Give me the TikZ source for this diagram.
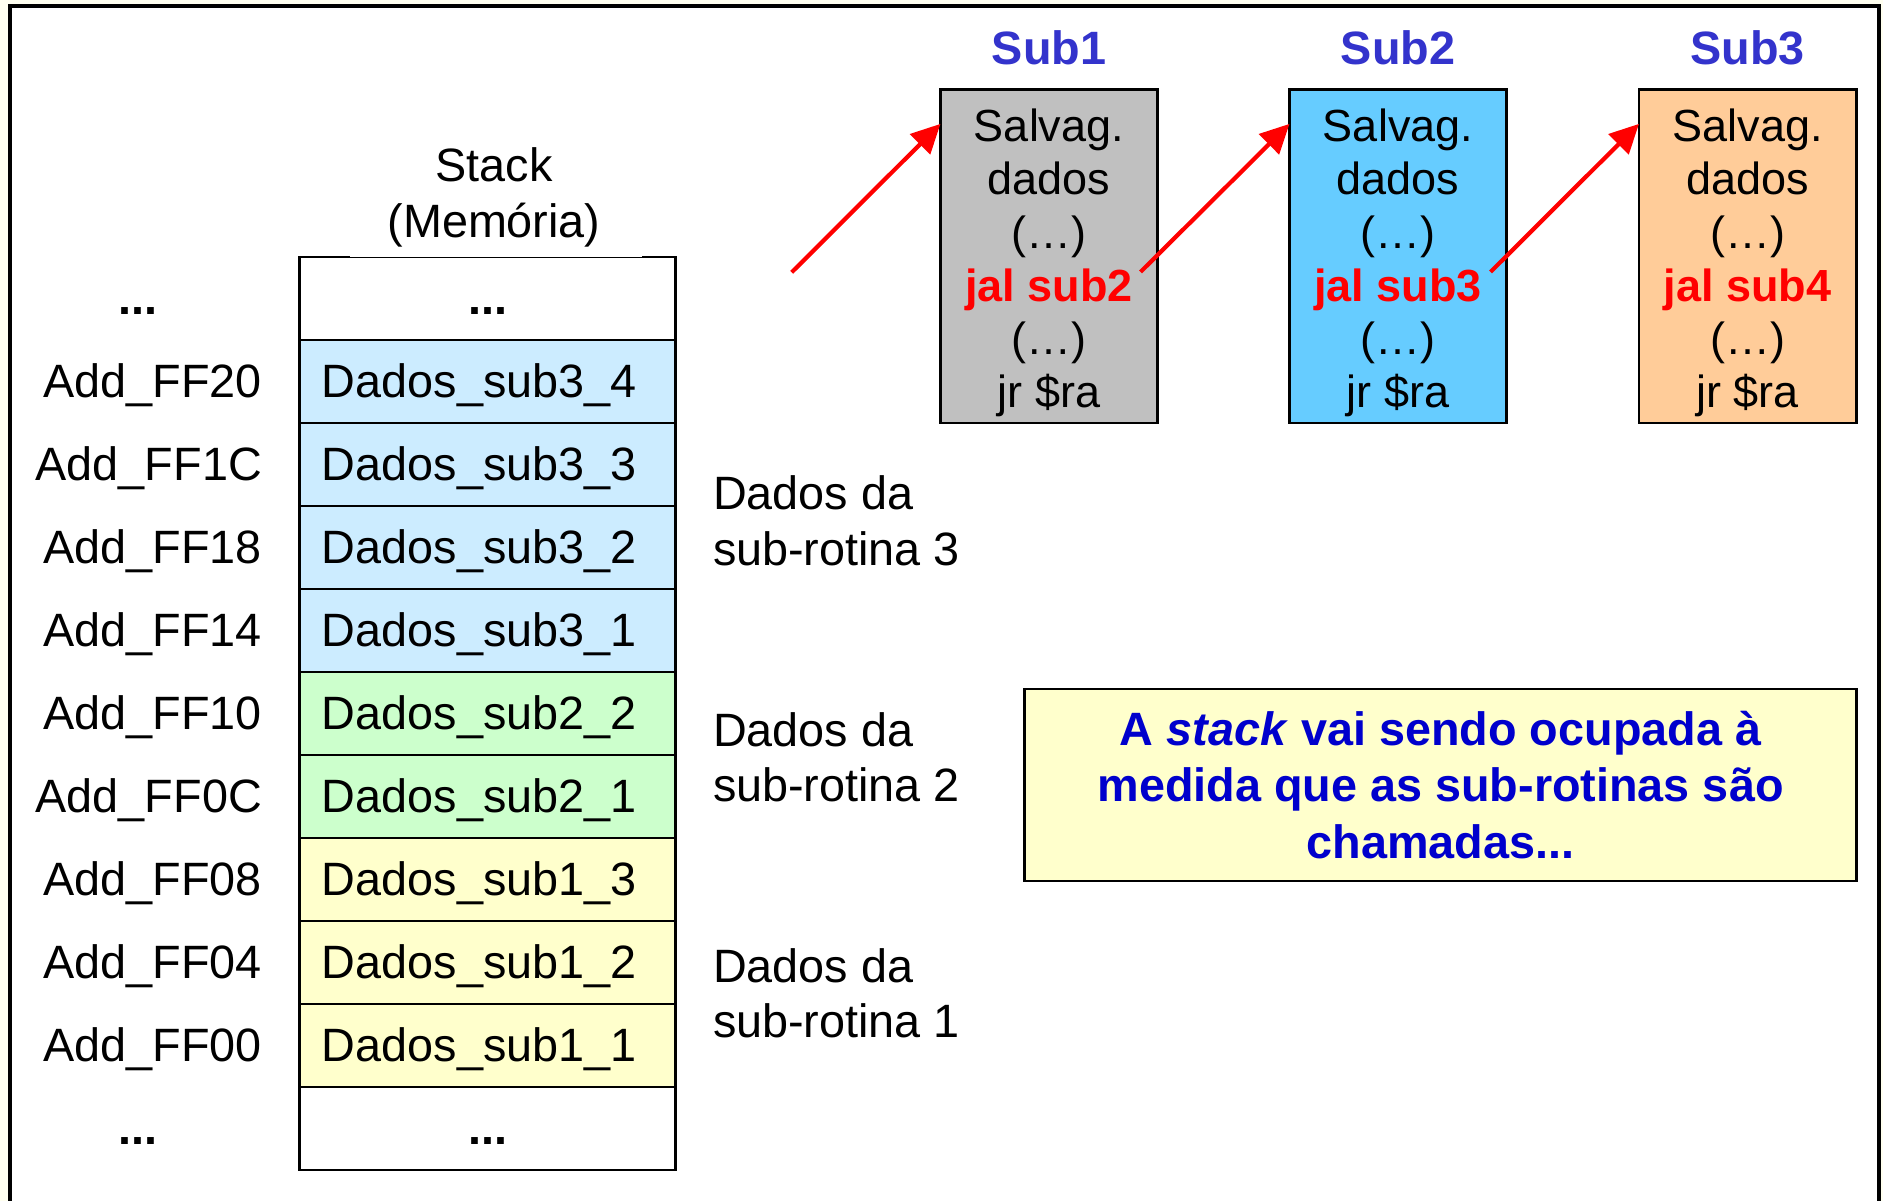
\documentclass[tikz,border=0pt]{standalone}
\usepackage{fontspec}
\setmainfont{Liberation Sans}
\usetikzlibrary{arrows.meta,calc}

\definecolor{pagecream}{HTML}{FFFFF0}
\definecolor{stkblue}{HTML}{CCECFF}
\definecolor{stkgreen}{HTML}{CCFFCC}
\definecolor{stkyellow}{HTML}{FFFFCC}
\definecolor{boxgray}{HTML}{C0C0C0}
\definecolor{boxblue}{HTML}{66CCFF}
\definecolor{boxorange}{HTML}{FFCC99}
\definecolor{titleblue}{HTML}{3333CC}
\definecolor{noteblue}{HTML}{0000CC}

% multi-line centred text whose baseline is that of its first line
\newcommand\textlines[1]{\begin{tabular}[t]{@{}c@{}}#1\end{tabular}}

\tikzset{
  txt/.style={inner sep=0pt, outer sep=0pt, font=\fontsize{13.3pt}{15.7pt}\selectfont},
  boldtxt/.style={txt, font=\fontsize{13.3pt}{15.7pt}\selectfont\bfseries},
  boxtxt/.style={inner sep=0pt, outer sep=0pt, font=\fontsize{12.8pt}{15.1pt}\selectfont},
  subtitle/.style={inner sep=0pt, outer sep=0pt, text=titleblue, font=\fontsize{13.3pt}{15.7pt}\selectfont\bfseries},
  notetxt/.style={inner sep=0pt, outer sep=0pt, text=noteblue, font=\fontsize{13.3pt}{16.1pt}\selectfont\bfseries},
  cell/.style={draw, line width=0.8pt, minimum width=3.75cm, minimum height=0.83cm, inner sep=0pt, outer sep=0pt},
  subbox/.style={draw, line width=0.8pt, minimum width=2.17cm, minimum height=3.33cm, inner sep=0pt, outer sep=0pt},
  notebox/.style={draw, line width=0.8pt, fill=stkyellow, minimum width=8.31cm, minimum height=1.92cm, inner sep=0pt, outer sep=0pt},
  call/.style={red, line width=1.2pt, -{Triangle[length=0.29cm, width=0.28cm]}},
}

\begin{document}
\begin{tikzpicture}[x=0.01cm, y=-0.01cm]
\useasboundingbox (0,0) rectangle (1883,1201);
\fill[pagecream] (0,0) rectangle (1883,1201);
\fill[white] (10,6) rectangle (1879,1201);
\draw[line width=0.9pt] (10,1201) -- (10,6) -- (1879,6) -- (1879,1201);

% stack title
\node[txt, anchor=base] (title) at (494,182) {\textlines{Stack\\(Memória)}};

% stack cells: empty top and bottom cells, data cells in between
\node[cell, fill=white] (cell0) at (487.5,298.5) {};
\node[cell, fill=white] (cell10) at (487.5,1128.5) {};
\foreach \i/\addr/\dat/\col in {
  1/Add\_FF20/Dados\_sub3\_4/stkblue,
  2/Add\_FF1C/Dados\_sub3\_3/stkblue,
  3/Add\_FF18/Dados\_sub3\_2/stkblue,
  4/Add\_FF14/Dados\_sub3\_1/stkblue,
  5/Add\_FF10/Dados\_sub2\_2/stkgreen,
  6/Add\_FF0C/Dados\_sub2\_1/stkgreen,
  7/Add\_FF08/Dados\_sub1\_3/stkyellow,
  8/Add\_FF04/Dados\_sub1\_2/stkyellow,
  9/Add\_FF00/Dados\_sub1\_1/stkyellow}{
  \node[cell, fill=\col] (cell\i) at (487.5,{257+83*(\i+0.5)}) {};
  \node[txt, anchor=base west] (dat\i) at ($(cell\i.west)+(22,16)$) {\dat};
  \node[txt, anchor=base east] (adr\i) at ($(cell\i.west)+(-38,16)$) {\addr};
}
% the title box hides part of the stack's top edge
\fill[white] (350,250) rectangle (642,257);

\node[boldtxt, anchor=base] (dots0) at ($(cell0.center)+(0,16)$) {...};
\node[boldtxt, anchor=base] (dots10) at ($(cell10.center)+(0,16)$) {...};
\node[boldtxt, anchor=base] (adrtop) at (138,314.5) {...};
\node[boldtxt, anchor=base] (adrbot) at (138,1144.5) {...};

% what each group of cells holds
\node[txt, anchor=base west] (grp3) at (713,510) {\begin{tabular}[t]{@{}l@{}}Dados da\\sub-rotina 3\end{tabular}};
\node[txt, anchor=base west] (grp2) at (713,746) {\begin{tabular}[t]{@{}l@{}}Dados da\\sub-rotina 2\end{tabular}};
\node[txt, anchor=base west] (grp1) at (713,982) {\begin{tabular}[t]{@{}l@{}}Dados da\\sub-rotina 1\end{tabular}};

% sub-routines
\node[subbox, fill=boxgray] (b1) at (1049,256.5) {};
\node[subbox, fill=boxblue] (b2) at (1398,256.5) {};
\node[subbox, fill=boxorange] (b3) at (1747.5,256.5) {};

\node[subtitle, anchor=base] (h1) at ($(b1.north)+(0,-25)$) {Sub1};
\node[subtitle, anchor=base] (h2) at ($(b2.north)+(0,-25)$) {Sub2};
\node[subtitle, anchor=base] (h3) at ($(b3.north)+(0,-25)$) {Sub3};

\node[boxtxt, anchor=base] (code1) at ($(b1.north)+(0,52)$)
  {\textlines{Salvag.\\dados\\(…)\\\textcolor{red}{\bfseries jal sub2}\\(…)\\jr \$ra}};
\node[boxtxt, anchor=base] (code2) at ($(b2.north)+(0,52)$)
  {\textlines{Salvag.\\dados\\(…)\\\textcolor{red}{\bfseries jal sub3}\\(…)\\jr \$ra}};
\node[boxtxt, anchor=base] (code3) at ($(b3.north)+(0,52)$)
  {\textlines{Salvag.\\dados\\(…)\\\textcolor{red}{\bfseries jal sub4}\\(…)\\jr \$ra}};

% calls
\coordinate (caller) at (791.7,272.3);
\coordinate (in1) at ($(b1.north west)+(0,34)$);
\coordinate (in2) at ($(b2.north west)+(0,34)$);
\coordinate (in3) at ($(b3.north west)+(0,34)$);
\coordinate (out1) at ($(b1.north east)+(-17,182)$);
\coordinate (out2) at ($(b2.north east)+(-16,182)$);
\draw[call] (caller) -- (in1);
\draw[call] (out1) -- (in2);
\draw[call] (out2) -- (in3);

% note
\node[notebox] (note) at (1440.5,785) {};
\node[notetxt, anchor=base] (notetext) at (1440.5,745)
  {\textlines{A \textit{stack} vai sendo ocupada à\\medida que as sub-rotinas são\\chamadas...}};
\end{tikzpicture}
\end{document}
